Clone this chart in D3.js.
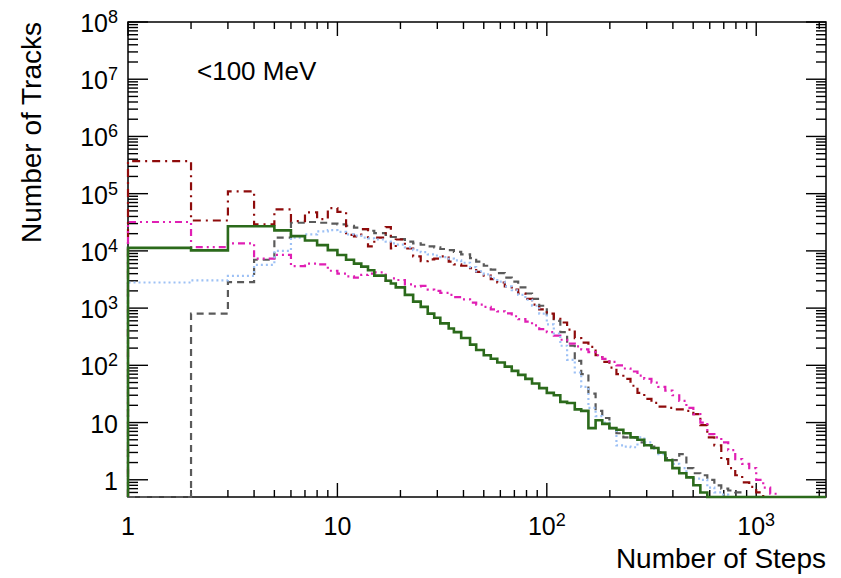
<!DOCTYPE html>
<html>
<head>
<meta charset="utf-8">
<script src="https://cdn.jsdelivr.net/npm/d3@7"></script>
<style>
  html, body { margin: 0; padding: 0; background: #fff; }
  svg { display: block; }
</style>
</head>
<body>
<div id="chart"></div>
<script>
// bin edges (number of steps), log-ish binning rounded to integers
const edges = [1,2,3,4,5,6,7,8,9,10,11,12,13,14,15,17,18,19,21,23,25,27,29,31,34,36,39,43,46,50,
  54,58,63,68,73,79,85,92,100,108,116,125,136,146,158,171,184,199,215,232,251,271,292,316,341,368,
  398,429,464,501,541,584,631,681,735,794,857,926,1000,1080,1166,1259,1359,1468,1585,1711,1848,1995,2154];

// number of tracks per bin
const green = [11300,10200,27000,27000,22800,18100,15200,12600,10300,
  8500,7000,6000,5300,4600,3700,3000,2700,2300,1700,
  1300,1050,800,680,540,440,380,300,230,185,
  150,130,112,95,80,68,58,48,40,33,
  30,23,22,17,16,8,11,9.5,8,7.5,
  6.5,5.5,5,4,3.6,3,2.2,1.6,1.3,1.1,
  0.8,0.6,0,0,0,0,0,0,0,0,
  0,0,0,0,0,0,0,0,0];
const gray = [0,800,2850,7000,17000,31000,32000,31000,30000,
  29000,27500,25500,24000,22500,20500,19000,17500,16000,14500,
  13500,12800,12000,11500,10800,10300,9600,8700,7500,6500,
  5500,4700,4100,3400,2900,2300,1800,1450,1100,780,
  600,380,220,120,70,32,16,12,8,6.5,
  5.5,5.5,4.5,4,3.8,3,2.4,2.2,2.8,1.6,
  1.3,1.2,1,0.8,0.7,0.65,0.6,0,0,0,
  0,0,0,0,0,0,0,0,0];
const blue = [2800,3050,3650,5700,10000,17000,19500,22000,23000,
  21500,19500,18500,17000,16500,15800,14500,13500,12900,11500,
  10300,9500,8700,8300,7800,7300,6800,6200,5200,4400,
  3900,3300,2900,2400,2050,1700,1400,1100,800,520,
  360,220,125,75,42,18,13,10,8,4,
  3.8,3.7,5.5,4.5,3.5,2.8,2.2,1.9,1.6,1.1,
  1.05,1,0.73,0.6,0.55,0,0,0,0,0,
  0,0,0,0,0,0,0,0,0];
const darkred = [370000,34000,110000,29000,53000,33000,47000,36000,56000,
  48000,19000,18000,24000,12000,17000,26000,11000,15800,11000,
  8000,6600,7100,7300,8000,6500,5800,5500,5000,4300,
  3700,3200,2800,2400,2100,1800,1450,1150,950,800,
  650,560,420,300,250,210,150,115,91,70,
  58,44,33,26,22,19,18,17,17,16,
  14,9,5.5,4,2.3,1.6,1.2,0.9,0.75,0.6,
  0,0,0,0,0,0,0,0,0];
const magenta = [32000,11600,13500,7300,8500,5400,6000,5800,4500,
  4000,3600,3400,3800,4000,4200,3000,3300,3100,2600,
  2400,2450,2100,2000,1850,1700,1550,1420,1250,1150,
  1050,950,880,810,720,640,580,500,430,380,
  330,280,240,215,190,170,150,130,115,100,
  88,78,66,58,50,42,36,30,24,18,
  14,10,6.3,5.5,4.5,3.3,2.3,1.9,1.6,1.0,
  0.73,0.57,0,0,0,0,0,0,0];

const xTickVals = [1, 10, 100, 1000];
const xTickExp = [null, null, 2, 3];
const yTickVals = [1, 10, 1e2, 1e3, 1e4, 1e5, 1e6, 1e7, 1e8];
const yTickExp = [null, null, 2, 3, 4, 5, 6, 7, 8];

const series = [
  { values: gray,    color: '#5a5a5a', width: 2.2, dash: '7,5' },
  { values: darkred, color: '#8e0b0b', width: 2.2, dash: '8,5,2,5' },
  { values: magenta, color: '#e01fb4', width: 2.2, dash: '7,4,2,4,2,4' },
  { values: blue,    color: '#9dc1f5', width: 2.2, dash: '2,3' },
  { values: green,   color: '#2b6a1b', width: 2.6, dash: null },
];

const W = 841, H = 578;
const pLeft = 128, pRight = 826, pTop = 22, pBottom = 497;
const font = '"Liberation Sans", Arial, Helvetica, sans-serif';

const svg = d3.select('#chart').append('svg').attr('width', W).attr('height', H);

const x = d3.scaleLog().domain([1, 2154]).range([pLeft, pRight]);
const y = d3.scaleLog().domain([0.5, 1e8]).range([pBottom, pTop]);

// minor ticks
const xMinor = [];
for (const d of xTickVals) for (let k = 2; k <= 9; k++) if (k * d < 2154) xMinor.push(k * d);
const yMinor = [0.6, 0.7, 0.8, 0.9];
for (let e = 0; e < 8; e++) for (let k = 2; k <= 9; k++) yMinor.push(k * Math.pow(10, e));

svg.append('defs').append('clipPath').attr('id', 'plotclip')
  .append('rect').attr('x', pLeft - 2).attr('y', pTop).attr('width', pRight - pLeft + 4).attr('height', pBottom - pTop + 2);

// frame
svg.append('rect').attr('x', pLeft).attr('y', pTop).attr('width', pRight - pLeft).attr('height', pBottom - pTop)
  .attr('fill', 'none').attr('stroke', '#000').attr('stroke-width', 1.5);

// ticks on all four sides, pointing inward
const tickG = svg.append('g').attr('stroke', '#000').attr('stroke-width', 1.4);
function xTicks(vals, len) {
  tickG.selectAll(null).data(vals).join('line')
    .attr('x1', d => x(d)).attr('x2', d => x(d)).attr('y1', pBottom).attr('y2', pBottom - len);
  tickG.selectAll(null).data(vals).join('line')
    .attr('x1', d => x(d)).attr('x2', d => x(d)).attr('y1', pTop).attr('y2', pTop + len);
}
function yTicks(vals, len) {
  tickG.selectAll(null).data(vals).join('line')
    .attr('y1', d => y(d)).attr('y2', d => y(d)).attr('x1', pLeft).attr('x2', pLeft + len);
  tickG.selectAll(null).data(vals).join('line')
    .attr('y1', d => y(d)).attr('y2', d => y(d)).attr('x1', pRight).attr('x2', pRight - len);
}
xTicks(xTickVals, 14); xTicks(xMinor, 7);
yTicks(yTickVals, 20); yTicks(yMinor, 10);

// histograms
const line = d3.line();
const plot = svg.append('g').attr('clip-path', 'url(#plotclip)');
series.forEach(s => {
  const yy = v => (v > 0.5 ? y(v) : pBottom);
  const pts = [[x(edges[0]), pBottom]];
  s.values.forEach((v, i) => {
    pts.push([x(edges[i]), yy(v)]);
    pts.push([x(edges[i + 1]), yy(v)]);
  });
  pts.push([x(edges[edges.length - 1]), pBottom]);
  plot.append('path').attr('d', line(pts))
    .attr('fill', 'none').attr('stroke', s.color).attr('stroke-width', s.width)
    .attr('stroke-dasharray', s.dash).attr('stroke-linejoin', 'miter');
});

// tick labels
function powLabel(sel, exp) {
  if (exp === null) return;
  sel.append('tspan').attr('font-size', 18).attr('dy', -9).text(exp);
}
xTickVals.forEach((v, i) => {
  const t = svg.append('text').attr('x', x(v)).attr('y', 535)
    .attr('text-anchor', 'middle').attr('font-family', font).attr('font-size', 25)
    .text(v === 1 ? '1' : '10');
  powLabel(t, xTickExp[i]);
});
yTickVals.forEach((v, i) => {
  const t = svg.append('text').attr('x', 118).attr('y', y(v) + 10)
    .attr('text-anchor', 'end').attr('font-family', font).attr('font-size', 25)
    .text(v === 1 ? '1' : '10');
  powLabel(t, yTickExp[i]);
});

// axis titles
svg.append('text').attr('x', pRight).attr('y', 568).attr('text-anchor', 'end')
  .attr('font-family', font).attr('font-size', 28).text('Number of Steps');
svg.append('text').attr('transform', `translate(41,${pTop}) rotate(-90)`).attr('text-anchor', 'end')
  .attr('font-family', font).attr('font-size', 28).text('Number of Tracks');

svg.append('text').attr('x', 197).attr('y', 80)
  .attr('font-family', font).attr('font-size', 26).text('<100 MeV');
</script>
</body>
</html>
